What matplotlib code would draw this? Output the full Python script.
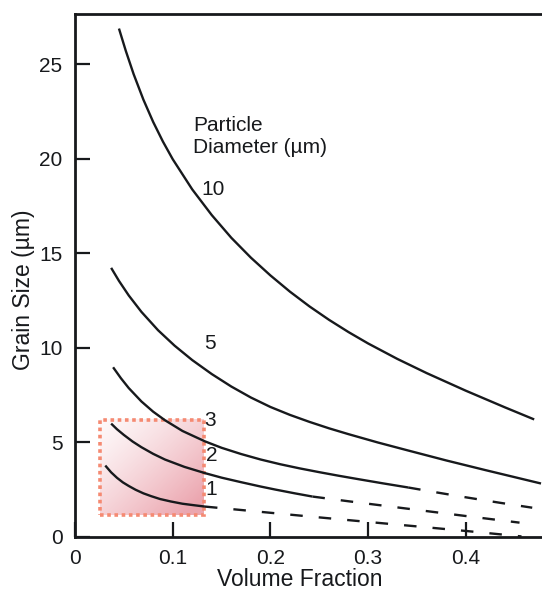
import numpy as np
import matplotlib
matplotlib.use('Agg')
import matplotlib.pyplot as plt
from matplotlib.patches import Rectangle

plt.rcParams['font.family'] = ['Liberation Sans', 'DejaVu Sans']

ink = '#17191c'

# curves: volume fraction vs grain size (um)
f10 = [0.045, 0.052, 0.06, 0.07, 0.08, 0.09, 0.10, 0.12, 0.14, 0.16, 0.18, 0.20, 0.22, 0.24,
       0.26, 0.28, 0.30, 0.33, 0.36, 0.40, 0.44, 0.47]
d10 = [26.9, 25.72, 24.49, 23.14, 21.96, 20.92, 19.99, 18.39, 17.03, 15.83, 14.78, 13.84, 12.98, 12.2,
       11.49, 10.84, 10.24, 9.42, 8.67, 7.74, 6.86, 6.22]

f5 = [0.037, 0.045, 0.055, 0.068, 0.085, 0.102, 0.12, 0.14, 0.16, 0.18, 0.20, 0.22, 0.24, 0.26,
      0.28, 0.31, 0.34, 0.38, 0.42, 0.477]
d5 = [14.24, 13.55, 12.78, 11.91, 10.94, 10.12, 9.36, 8.62, 7.96, 7.38, 6.88, 6.46, 6.09, 5.75,
      5.44, 5.0, 4.59, 4.05, 3.54, 2.83]

f3 = [0.039, 0.047, 0.055, 0.068, 0.08, 0.092, 0.11, 0.133, 0.15, 0.17, 0.19, 0.21, 0.23, 0.25,
      0.27, 0.29, 0.315, 0.341]
d3 = [8.98, 8.40, 7.88, 7.17, 6.63, 6.18, 5.61, 5.06, 4.72, 4.39, 4.10, 3.85, 3.63, 3.43,
      3.24, 3.06, 2.84, 2.62]
f3_dash = [0.341, 0.37, 0.40, 0.435, 0.468]
d3_dash = [2.62, 2.36, 2.10, 1.81, 1.55]

f2 = [0.037, 0.043, 0.05, 0.059, 0.068, 0.08, 0.092, 0.112, 0.133, 0.15, 0.17, 0.19, 0.205,
      0.225, 0.243]
d2 = [6.0, 5.70, 5.40, 5.05, 4.75, 4.40, 4.10, 3.71, 3.38, 3.14, 2.90, 2.67, 2.51,
      2.31, 2.14]
f2_dash = [0.243, 0.280, 0.320, 0.360, 0.400, 0.455]
d2_dash = [2.14, 1.89, 1.63, 1.37, 1.11, 0.76]

f1 = [0.031, 0.037, 0.043, 0.049, 0.055, 0.062, 0.070, 0.078, 0.087, 0.098, 0.110, 0.122, 0.133]
d1 = [3.78, 3.42, 3.13, 2.89, 2.70, 2.50, 2.31, 2.16, 2.01, 1.88, 1.76, 1.68, 1.61]
f1_dash = [0.133, 0.184, 0.239, 0.293, 0.348, 0.402, 0.457]
d1_dash = [1.61, 1.36, 1.09, 0.83, 0.57, 0.31, 0.03]

labels = ['10', '5', '3', '2', '1']
label_x = [0.141, 0.138, 0.138, 0.140, 0.139]
label_y = [18.36, 10.25, 6.19, 4.29, 2.52]

box = [0.026, 0.132, 1.16, 6.19]  # x0, x1, y0, y1

xticks = [0, 0.1, 0.2, 0.3, 0.4]
xticklabels = ['0', '0.1', '0.2', '0.3', '0.4']
yticks = [0, 5, 10, 15, 20, 25]

fig = plt.figure(figsize=(5.42, 5.90), dpi=100)
ax = fig.add_axes([75 / 542, 53 / 590, 467 / 542, 523 / 590])

# shaded box, pale at top left, deeper pink towards bottom right
gx, gy = np.meshgrid(np.linspace(0, 1, 60), np.linspace(0, 1, 60))
t = np.clip(0.55 * gx + 0.55 * gy, 0, 1) ** 1.3
rgba = np.zeros((60, 60, 4))
rgba[..., 0] = 0.86
rgba[..., 1] = 0.35
rgba[..., 2] = 0.42
rgba[..., 3] = 0.04 + 0.5 * t
ax.imshow(rgba, extent=[box[0], box[1], box[2], box[3]], origin='upper',
          aspect='auto', interpolation='bicubic', zorder=1)
ax.add_patch(Rectangle((box[0], box[2]), box[1] - box[0], box[3] - box[2],
                       fill=False, edgecolor='#f58a72', lw=2.6,
                       linestyle=(0, (1, 1)), zorder=2))

lw = 1.7
for fx, dy in [(f10, d10), (f5, d5), (f3, d3), (f2, d2), (f1, d1)]:
    ax.plot(fx, dy, color=ink, lw=lw, zorder=3, solid_capstyle='butt',
            solid_joinstyle='round')
for fx, dy in [(f3_dash, d3_dash), (f2_dash, d2_dash), (f1_dash, d1_dash)]:
    ax.plot(fx, dy, color=ink, lw=lw, zorder=3, dashes=(5.3, 6.8))

for s, x, y in zip(labels, label_x, label_y):
    ax.text(x, y, s, fontsize=15, color=ink, ha='center', va='center')
ax.text(0.121, 21.76, 'Particle', fontsize=15, color=ink, ha='left', va='center')
ax.text(0.121, 20.62, 'Diameter (\u00b5m)', fontsize=15, color=ink, ha='left', va='center')

ax.set_xlim(0, 0.478)
ax.set_ylim(0, 27.67)
ax.set_xticks(xticks)
ax.set_xticklabels(xticklabels)
ax.set_yticks(yticks)
ax.tick_params(direction='in', length=11, width=1.6, labelsize=15, pad=9,
               colors=ink, top=False, right=False)
for side in ['left', 'bottom', 'top']:
    ax.spines[side].set_linewidth(2.0)
    ax.spines[side].set_color(ink)
ax.spines['right'].set_visible(False)

ax.set_xlabel('Volume Fraction', fontsize=16.5, color=ink)
ax.set_ylabel('Grain Size (\u00b5m)', fontsize=16.5, color=ink)
ax.xaxis.set_label_coords(0.482, -0.06)
ax.yaxis.set_label_coords(-0.085, 0.472)

fig.savefig('out.png', dpi=100)
